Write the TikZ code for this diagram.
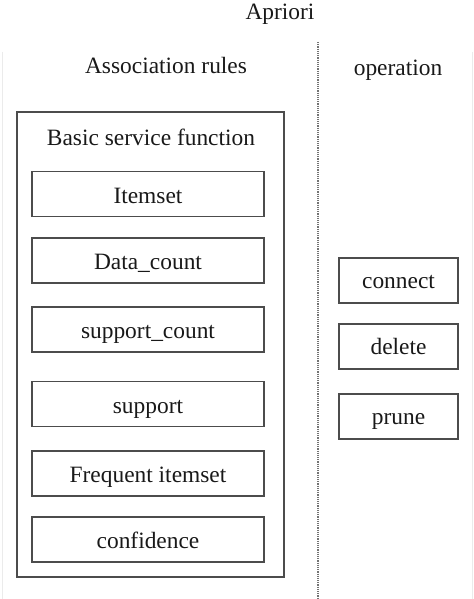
\documentclass[tikz,border=0pt]{standalone}
\usepackage{fontspec}
\setmainfont{Liberation Serif}
\begin{document}
\begin{tikzpicture}[x=1bp,y=-1bp,
  every node/.style={font=\fontsize{23.5}{28}\selectfont, text=black!90},
  box/.style={draw=black!70, line width=1.3bp, minimum width=232bp, minimum height=45bp, inner sep=0pt, text height=18bp, text depth=0bp},
  opbox/.style={draw=black!70, line width=1.3bp, minimum width=119bp, minimum height=45bp, inner sep=0pt, text height=16bp, text depth=0bp},
  lbl/.style={inner sep=0pt, anchor=base}]
\useasboundingbox (0,0) rectangle (474,599);
\fill[white] (0,0) rectangle (474,599);
% faint frame edges
\draw[black!8, line width=0.8bp] (2,52) -- (2,599);
\draw[black!8, line width=0.8bp] (472,52) -- (472,599);
\node[lbl] (title) at (280,19.5) {Apriori};
\coordinate (dtop) at (318,42);
\coordinate (dbot) at (318,599);
\draw[black!55, line width=1.2bp, densely dotted] (dtop) -- (dbot);
\node[lbl] (assoc) at (166,74) {Association rules};
\node[lbl] (oper) at (398,76) {operation};
\node[draw=black!70, line width=1.3bp, minimum width=267bp, minimum height=465bp, inner sep=0pt] (outer) at (150.5,344.5) {};
\node[lbl] (basic) at (151,146) {Basic service function};
\node[box] (b1) at (148,194) {Itemset};
\node[box] (b2) at (148,260.5) {Data\_count};
\node[box] (b3) at (148,329.5) {support\_count};
\node[box] (b4) at (148,404) {support};
\node[box] (b5) at (148,473.5) {Frequent itemset};
\node[box] (b6) at (148,539.5) {confidence};
\node[opbox] (o1) at (398.5,280.5) {connect};
\node[opbox] (o2) at (398.5,346.5) {delete};
\node[opbox] (o3) at (398.5,416.5) {prune};
\end{tikzpicture}
\end{document}
